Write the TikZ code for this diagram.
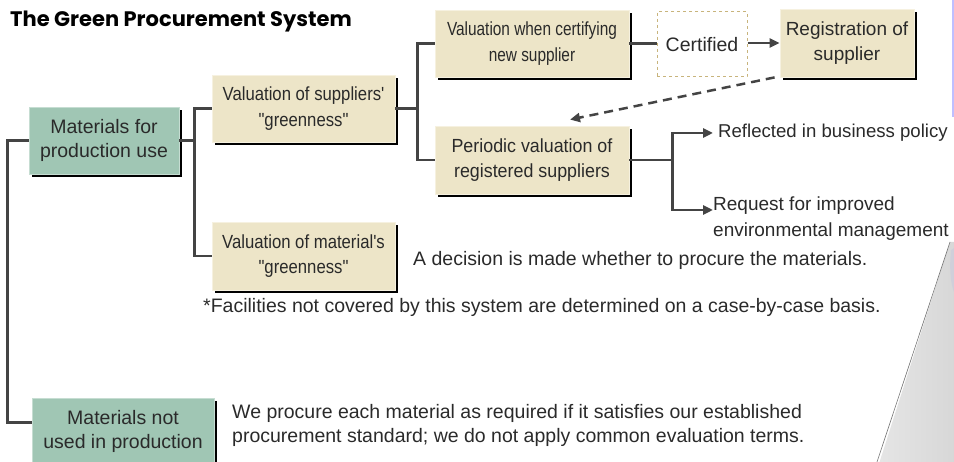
\documentclass[tikz,border=0pt]{standalone}
\usepackage{fontspec}
\setmainfont{Liberation Sans}
\newfontfamily\titlefont{Poppins}
\newfontfamily\nfa[FakeStretch=0.88]{Liberation Sans}
\newfontfamily\nfb[FakeStretch=0.94]{Liberation Sans}
\newfontfamily\nfc[FakeStretch=0.81]{Liberation Sans}
\usetikzlibrary{arrows.meta,shadows,calc}
\definecolor{beige}{HTML}{EDE5C8}
\definecolor{beigeedge}{HTML}{F6F1E0}
\definecolor{greenfill}{HTML}{A0C6B4}
\definecolor{conncol}{HTML}{444444}
\definecolor{txt}{HTML}{2A2A2A}
\definecolor{certedge}{HTML}{C8B47C}
\tikzset{
  boxbase/.style={draw=beigeedge, line width=0.8pt, inner sep=0pt, align=center, text=txt,
     general shadow={fill=black, shadow xshift=3pt, shadow yshift=-3pt}},
  beigebox/.style={boxbase, fill=beige, font=\nfa\fontsize{19}{25.5}\selectfont},
  greenbox/.style={boxbase, fill=greenfill, draw=greenfill!60!white, font=\fontsize{19.5}{24}\selectfont},
  conn/.style={draw=conncol, line width=2.5pt},
  tip/.style={-{Triangle[length=10pt,width=9pt]}},
  body/.style={font=\fontsize{19.5}{26}\selectfont, text=txt, inner sep=0pt, anchor=west, align=left}
}
\begin{document}
\begin{tikzpicture}[x=1pt,y=-1pt]
\useasboundingbox (0,0) rectangle (954,462);
% right decoration
\shade[left color=black!10, right color=black!16] (950,242) -- (960,242) -- (960,470) -- (877,470) -- cycle;
\draw[black!55, line width=0.6pt] (950,242) -- (877,462);
\fill[blue!30!black!20!white, opacity=0.7] (951,250) .. controls (949,270) and (951,285) .. (954,292) -- (954,248) -- cycle;
\draw[blue!25!white, line width=1.2pt] (953,0) -- (953,117);
% title
\node[anchor=base west, inner sep=0pt, text=black, font=\titlefont\bfseries\fontsize{21}{24}\selectfont] (title) at (10,27) {The Green Procurement System};
% boxes
\node[greenbox, minimum width=150pt, minimum height=67pt] (mpu) at (104,140.5) {Materials for\\production use};
\node[beigebox, minimum width=183pt, minimum height=67pt] (sup) at (303.5,108.5) {Valuation of suppliers'\\"greenness"};
\node[beigebox, minimum width=194pt, minimum height=67pt, font=\nfc\fontsize{19}{25.5}\selectfont] (newsup) at (532,43.5) {Valuation when certifying\\new supplier};
\node[draw=certedge, dashed, line width=1pt, inner sep=0pt, minimum width=90pt, minimum height=65pt, text=txt, font=\fontsize{19.5}{24}\selectfont, fill=white] (cert) at (702,44.5) {Certified};
\node[beigebox, minimum width=134pt, minimum height=68pt, font=\fontsize{19}{25.5}\selectfont] (reg) at (847,43) {Registration of\\supplier};
\node[beigebox, minimum width=194pt, minimum height=68pt, font=\nfb\fontsize{19}{25.5}\selectfont] (per) at (532,160) {Periodic valuation of\\registered suppliers};
\node[beigebox, minimum width=183pt, minimum height=68pt] (mat) at (303.5,256) {Valuation of material's\\"greenness"};
\node[greenbox, minimum width=182pt, minimum height=67pt] (notused) at (123,431.5) {Materials not\\used in production};
% texts
\node[body, font=\fontsize{18.6}{26}\selectfont] (refl) at (718,133) {Reflected in business policy};
\node[body, anchor=north west, font=\fontsize{19}{26}\selectfont] (req) at (713,197) {Request for improved\\environmental management};
\node[body] (dec) at (413,260) {A decision is made whether to procure the materials.};
\node[body] (foot) at (203,307) {*Facilities not covered by this system are determined on a case-by-case basis.};
\node[body, anchor=north west, font=\fontsize{19.5}{24}\selectfont] (proc) at (232,404) {We procure each material as required if it satisfies our established\\procurement standard; we do not apply common evaluation terms.};
% connectors
\draw[conn] (mpu.west) -- ++(-21,0) |- ($(notused.north west)+(0,25)$);
\draw[conn] (mpu.east) -- ++(15,0);
\draw[conn] (sup.west) -| ($(mpu.east)+(15,0)$) |- (mat.west);
\draw[conn] (sup.east) -- ++(22,0);
\draw[conn] (newsup.west) -| ($(sup.east)+(22,0)$) |- (per.west);
\draw[conn] (newsup.east) -- (cert.west |- newsup.east);
\draw[conn, tip] (cert.east |- reg.west) -- (reg.west);
\draw[conn, tip, dashed, dash pattern=on 9pt off 6pt, line width=2.5pt] ($(reg.south west)+(-5,0)$) -- ($(per.north)+(38,-6)$);
\draw[conn] (per.east) -- ++(43,0);
\draw[conn, tip] ($(per.east)+(43,0)$) |- ($(refl.west)+(-5,0)$);
\draw[conn, tip] ($(per.east)+(43,0)$) |- ($(req.north west)+(0,13)$);
\end{tikzpicture}
\end{document}
